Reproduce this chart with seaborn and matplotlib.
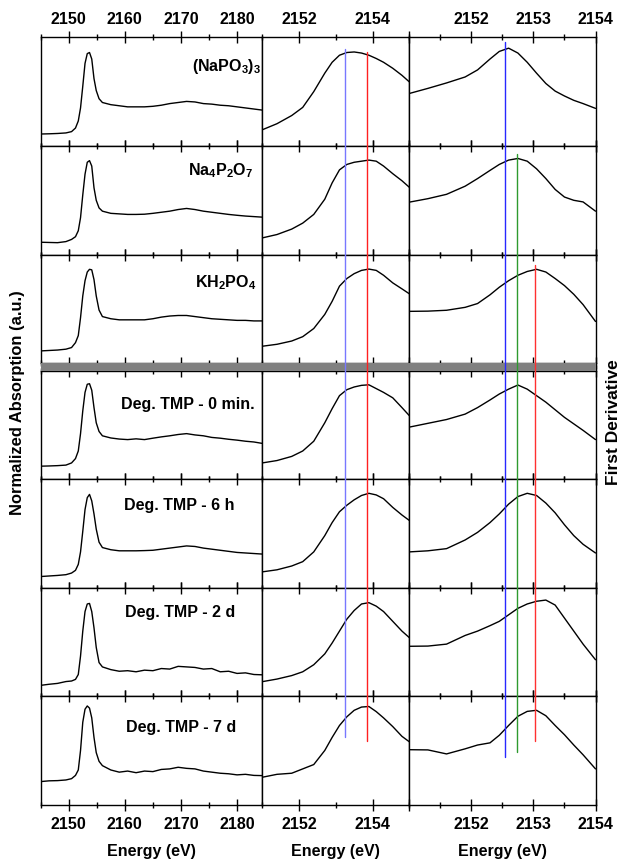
import numpy as np
import pandas as pd
import seaborn as sns
import matplotlib.pyplot as plt
from matplotlib.lines import Line2D
from matplotlib.patches import Rectangle
from matplotlib.transforms import blended_transform_factory
from matplotlib.ticker import FixedLocator, MultipleLocator

sns.set_theme(style='white')
plt.rcParams['font.family'] = ['Liberation Sans', 'DejaVu Sans']
plt.rcParams['font.weight'] = 'bold'
plt.rcParams['mathtext.default'] = 'regular'
plt.rcParams['text.color'] = 'black'
plt.rcParams['xtick.color'] = 'black'
plt.rcParams['xtick.labelcolor'] = 'black'

# sample names (one row each)
samples = [r'(NaPO$_3$)$_3$', r'Na$_4$P$_2$O$_7$', r'KH$_2$PO$_4$',
           'Deg. TMP - 0 min.', 'Deg. TMP - 6 h', 'Deg. TMP - 2 d', 'Deg. TMP - 7 d']

# XANES energies (left column)
xanes_e = [2145, 2146.5, 2148, 2149.5, 2150.5, 2151.2, 2151.7,
           2152.1, 2152.5, 2152.9, 2153.3, 2153.7, 2154.1, 2154.5, 2154.9, 2155.4,
           2156, 2157.5, 2159, 2160.5, 2162, 2163.5, 2165, 2166.5, 2168, 2169.5,
           2171, 2172.5, 2174, 2175.5, 2177, 2178.5, 2180, 2181.5, 2183, 2184.5]

xanes_napo3 = [0.11, 0.112, 0.115, 0.12, 0.132, 0.165, 0.23,
               0.35, 0.55, 0.76, 0.85, 0.86, 0.80, 0.62, 0.51, 0.435,
               0.40, 0.38, 0.37, 0.36, 0.36, 0.36, 0.365, 0.375, 0.39, 0.40,
               0.41, 0.405, 0.39, 0.385, 0.375, 0.37, 0.36, 0.35, 0.34, 0.33]
xanes_na4p2o7 = [0.114, 0.112, 0.11, 0.12, 0.14, 0.165, 0.22,
                 0.34, 0.55, 0.74, 0.85, 0.865, 0.815, 0.615, 0.50, 0.43,
                 0.40, 0.38, 0.375, 0.37, 0.37, 0.372, 0.38, 0.39, 0.40, 0.415,
                 0.425, 0.415, 0.40, 0.39, 0.38, 0.37, 0.362, 0.355, 0.35, 0.345]
xanes_kh2po4 = [0.114, 0.118, 0.122, 0.13, 0.145, 0.19, 0.255,
                0.42, 0.62, 0.76, 0.84, 0.865, 0.86, 0.77, 0.62, 0.49,
                0.43, 0.41, 0.40, 0.40, 0.40, 0.40, 0.41, 0.425, 0.435, 0.44,
                0.44, 0.43, 0.42, 0.41, 0.405, 0.40, 0.395, 0.395, 0.39, 0.39]
xanes_0min = [0.12, 0.122, 0.125, 0.13, 0.15, 0.19, 0.26,
              0.42, 0.63, 0.80, 0.875, 0.88, 0.82, 0.66, 0.52, 0.44,
              0.40, 0.38, 0.37, 0.365, 0.372, 0.365, 0.378, 0.39, 0.40, 0.412,
              0.42, 0.408, 0.40, 0.385, 0.378, 0.368, 0.36, 0.35, 0.343, 0.33]
xanes_6h = [0.103, 0.108, 0.113, 0.12, 0.135, 0.16, 0.215,
            0.33, 0.52, 0.72, 0.83, 0.86, 0.80, 0.68, 0.54, 0.42,
            0.37, 0.35, 0.34, 0.34, 0.34, 0.342, 0.345, 0.355, 0.365, 0.375,
            0.385, 0.38, 0.365, 0.355, 0.345, 0.335, 0.325, 0.32, 0.315, 0.31]
xanes_2d = [0.10, 0.11, 0.118, 0.135, 0.14, 0.155, 0.20,
            0.37, 0.60, 0.78, 0.85, 0.855, 0.78, 0.63, 0.45, 0.31,
            0.27, 0.245, 0.23, 0.235, 0.225, 0.24, 0.235, 0.255, 0.25, 0.275,
            0.27, 0.265, 0.25, 0.255, 0.225, 0.23, 0.21, 0.215, 0.20, 0.197]
xanes_7d = [0.213, 0.22, 0.222, 0.228, 0.24, 0.27, 0.32,
            0.50, 0.76, 0.88, 0.91, 0.89, 0.80, 0.62, 0.48, 0.40,
            0.36, 0.32, 0.30, 0.31, 0.295, 0.31, 0.305, 0.325, 0.33, 0.345,
            0.335, 0.33, 0.31, 0.30, 0.29, 0.285, 0.275, 0.28, 0.27, 0.268]

# first derivative, middle column
deriv_e = [2151, 2151.4, 2151.8, 2152.1, 2152.4, 2152.7, 2152.9, 2153.1, 2153.3,
           2153.5, 2153.7, 2153.9, 2154.1, 2154.3, 2154.55, 2154.8, 2155]
deriv_napo3 = [0.149, 0.205, 0.28, 0.355, 0.50, 0.67, 0.77, 0.835, 0.86,
               0.865, 0.855, 0.835, 0.805, 0.77, 0.715, 0.65, 0.59]
deriv_na4p2o7 = [0.154, 0.185, 0.235, 0.29, 0.37, 0.51, 0.66, 0.78, 0.83,
                 0.85, 0.86, 0.87, 0.86, 0.815, 0.745, 0.68, 0.62]
deriv_kh2po4 = [0.157, 0.175, 0.205, 0.245, 0.32, 0.45, 0.57, 0.71, 0.78,
                0.825, 0.855, 0.867, 0.855, 0.81, 0.74, 0.685, 0.64]
deriv_0min = [0.15, 0.172, 0.21, 0.26, 0.35, 0.52, 0.65, 0.77, 0.825,
              0.85, 0.865, 0.87, 0.835, 0.80, 0.75, 0.66, 0.586]
deriv_6h = [0.146, 0.165, 0.20, 0.24, 0.33, 0.48, 0.60, 0.70, 0.76,
            0.81, 0.85, 0.87, 0.855, 0.82, 0.74, 0.67, 0.62]
deriv_2d = [0.134, 0.158, 0.19, 0.225, 0.29, 0.39, 0.49, 0.60, 0.71,
            0.79, 0.85, 0.862, 0.83, 0.78, 0.69, 0.60, 0.54]
deriv_7d = [0.253, 0.28, 0.29, 0.33, 0.37, 0.50, 0.62, 0.73, 0.81,
            0.87, 0.90, 0.905, 0.858, 0.80, 0.72, 0.63, 0.58]

# first derivative, right column (zoomed)
zoom_e = [2151, 2151.3, 2151.6, 2151.9, 2152.1, 2152.3, 2152.45, 2152.6, 2152.75,
          2152.9, 2153.05, 2153.2, 2153.35, 2153.5, 2153.65, 2153.8, 2154]
zoom_napo3 = [0.483, 0.53, 0.58, 0.635, 0.70, 0.80, 0.87, 0.90, 0.855,
              0.77, 0.67, 0.575, 0.505, 0.46, 0.42, 0.39, 0.346]
zoom_na4p2o7 = [0.483, 0.515, 0.555, 0.63, 0.70, 0.775, 0.83, 0.87, 0.885,
                0.86, 0.79, 0.70, 0.60, 0.53, 0.50, 0.485, 0.40]
zoom_kh2po4 = [0.478, 0.48, 0.488, 0.515, 0.55, 0.63, 0.70, 0.76, 0.81,
               0.845, 0.865, 0.84, 0.78, 0.715, 0.635, 0.54, 0.385]
zoom_0min = [0.48, 0.515, 0.55, 0.60, 0.66, 0.73, 0.785, 0.83, 0.868,
             0.83, 0.77, 0.71, 0.64, 0.57, 0.51, 0.45, 0.365]
zoom_6h = [0.33, 0.34, 0.36, 0.44, 0.51, 0.60, 0.68, 0.77, 0.84,
           0.87, 0.85, 0.78, 0.69, 0.58, 0.48, 0.40, 0.32]
zoom_2d = [0.46, 0.462, 0.48, 0.56, 0.60, 0.65, 0.69, 0.75, 0.81,
           0.85, 0.875, 0.886, 0.84, 0.72, 0.60, 0.48, 0.336]
zoom_7d = [0.507, 0.505, 0.468, 0.515, 0.55, 0.57, 0.64, 0.73, 0.815,
           0.86, 0.87, 0.82, 0.73, 0.645, 0.55, 0.46, 0.33]

xanes_rows = [xanes_napo3, xanes_na4p2o7, xanes_kh2po4, xanes_0min, xanes_6h, xanes_2d, xanes_7d]
deriv_rows = [deriv_napo3, deriv_na4p2o7, deriv_kh2po4, deriv_0min, deriv_6h, deriv_2d, deriv_7d]
zoom_rows = [zoom_napo3, zoom_na4p2o7, zoom_kh2po4, zoom_0min, zoom_6h, zoom_2d, zoom_7d]

# reference energies for the marker lines
mid_blue, mid_red = 2153.25, 2153.84
right_blue, right_green, right_red = 2152.54, 2152.74, 2153.02

W, H = 622, 862
fig = plt.figure(figsize=(W / 100, H / 100), dpi=100)

col_px = [40.7, 262.3, 409.3, 595.5]
row_px = [38.3, 146.97, 255.63, 364.3, 371.7, 480.2, 588.7, 697.2, 805.7]
row_spans = [(row_px[0], row_px[1]), (row_px[1], row_px[2]), (row_px[2], row_px[3]),
             (row_px[4], row_px[5]), (row_px[5], row_px[6]), (row_px[6], row_px[7]),
             (row_px[7], row_px[8])]

xlims = [(2145, 2184.5), (2151, 2155), (2151, 2154)]
label_pos = [(0.995, 0.74, 'right'), (0.958, 0.78, 'right'), (0.973, 0.75, 'right'),
             (0.665, 0.70, 'center'), (0.624, 0.77, 'center'), (0.628, 0.778, 'center'),
             (0.632, 0.725, 'center')]

axes = []
for r, (ytop, ybot) in enumerate(row_spans):
    row_axes = []
    for c in range(3):
        x0 = col_px[c] / W
        w = (col_px[c + 1] - col_px[c]) / W
        ax = fig.add_axes([x0, 1 - ybot / H, w, (ybot - ytop) / H])
        if c == 0:
            sns.lineplot(x=xanes_e, y=xanes_rows[r], ax=ax, color='black', linewidth=1.0, estimator=None)
            ax.xaxis.set_major_locator(FixedLocator([2150, 2160, 2170, 2180]))
            ax.xaxis.set_minor_locator(MultipleLocator(5))
        elif c == 1:
            sns.lineplot(x=deriv_e, y=deriv_rows[r], ax=ax, color='black', linewidth=1.0, estimator=None)
            ax.xaxis.set_major_locator(FixedLocator([2152, 2154]))
            ax.xaxis.set_minor_locator(FixedLocator([2151, 2153, 2155]))
        else:
            sns.lineplot(x=zoom_e, y=zoom_rows[r], ax=ax, color='black', linewidth=1.0, estimator=None)
            ax.xaxis.set_major_locator(FixedLocator([2151, 2152, 2153, 2154]))
            ax.xaxis.set_minor_locator(FixedLocator([2151.5, 2152.5, 2153.5]))
        ax.set_xlim(*xlims[c])
        ax.set_ylim(0, 1)
        ax.set_yticks([])
        ax.set_xlabel('')
        ax.set_ylabel('')
        for s in ax.spines.values():
            s.set_color('black')
            s.set_linewidth(1.0)
        ax.tick_params(axis='x', which='both', direction='inout', top=True, bottom=True,
                       labeltop=(r == 0), labelbottom=(r == 6), color='black',
                       labelcolor='black', width=1.0, labelsize=11.5, pad=4)
        ax.tick_params(axis='x', which='major', length=8)
        ax.tick_params(axis='x', which='minor', length=5)
        if c == 2:
            ax.set_xticklabels(['', '2152', '2153', '2154'])
        for lab in ax.get_xticklabels():
            lab.set_fontweight('bold')
        row_axes.append(ax)
    lx, ly, ha = label_pos[r]
    row_axes[0].text(lx, ly, samples[r], transform=row_axes[0].transAxes, ha=ha, va='center',
                     fontsize=11.5, fontweight='bold', color='black')
    axes.append(row_axes)

# grey separator between standards and degraded samples
fig.add_artist(Rectangle((col_px[0] / W, 1 - row_px[4] / H), (col_px[3] - col_px[0]) / W,
                         (row_px[4] - row_px[3]) / H, transform=fig.transFigure,
                         facecolor='#808080', edgecolor='none', zorder=5))

# marker lines spanning the panels
markers = [
    (1, mid_blue, 50, 738, '#7878ff'),
    (1, mid_red, 53, 742, '#ff2020'),
    (2, right_blue, 43, 757.5, '#2828ff'),
    (2, right_green, 155, 752.5, '#2f9a2f'),
    (2, right_red, 266, 741.5, '#ff3030'),
]
for c, e, y0, y1, col in markers:
    tr = blended_transform_factory(axes[0][c].transData, fig.transFigure)
    fig.add_artist(Line2D([e, e], [1 - y0 / H, 1 - y1 / H], transform=tr,
                          color=col, linewidth=1.0, zorder=6))

for c in range(3):
    cx = (col_px[c] + col_px[c + 1]) / 2 / W
    fig.text(cx, 1 - 851.7 / H, 'Energy (eV)', ha='center', va='center',
             fontsize=11.5, fontweight='bold', color='black')

fig.text(18 / W, 1 - 403 / H, 'Normalized Absorption (a.u.)', rotation=90,
         ha='center', va='center', fontsize=11.9, fontweight='bold', color='black')
fig.text(614 / W, 1 - 422 / H, 'First Derivative', rotation=90,
         ha='center', va='center', fontsize=12.5, fontweight='bold', color='black')

fig.savefig('out.png', dpi=100, facecolor='white')
